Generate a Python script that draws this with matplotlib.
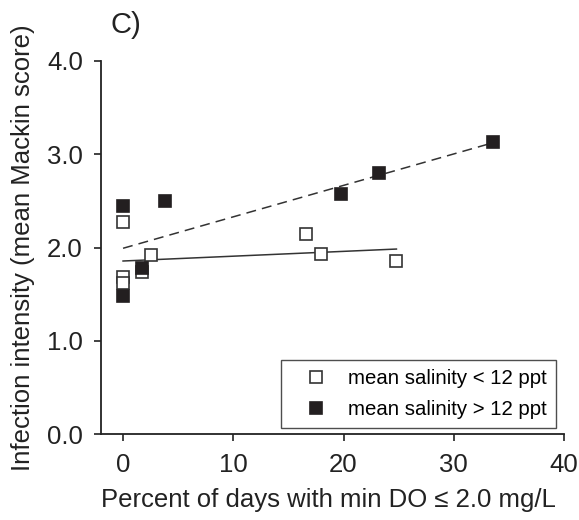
import numpy as np
import matplotlib
matplotlib.use("Agg")
import matplotlib.pyplot as plt

plt.rcParams['font.family'] = ['Liberation Sans', 'DejaVu Sans']

# Data: mean salinity < 12 ppt (open squares)
low_x = [0.0, 0.0, 0.0, 1.7, 2.5, 16.6, 18.0, 24.8]
low_y = [2.27, 1.68, 1.62, 1.74, 1.92, 2.15, 1.93, 1.86]
# Data: mean salinity > 12 ppt (filled squares)
high_x = [0.0, 0.0, 1.7, 3.8, 19.8, 23.2, 33.6]
high_y = [2.45, 1.48, 1.78, 2.50, 2.57, 2.80, 3.13]

xticks = [0, 10, 20, 30, 40]
yticks = [0.0, 1.0, 2.0, 3.0, 4.0]

fig = plt.figure(figsize=(5.79, 5.20), dpi=100)
ax = fig.add_axes([101/579, 1-434/520, (564-101)/579, (434-61)/520])

dark = '#222222'

# regression lines
for xs, ys, ls in [(low_x, low_y, '-'), (high_x, high_y, '--')]:
    k, b = np.polyfit(xs, ys, 1)
    xx = np.array([min(xs), max(xs)])
    line, = ax.plot(xx, k*xx + b, color='#333333', lw=1.1, ls=ls, zorder=2)
    if ls == '--':
        line.set_dashes((6.5, 4))

ax.plot(low_x, low_y, ls='none', marker='s', ms=9, mfc='white', mec='#333333',
        mew=1.2, label='mean salinity < 12 ppt', zorder=3)
ax.plot(high_x, high_y, ls='none', marker='s', ms=9, mfc='#231f20', mec='#231f20',
        mew=1.2, label='mean salinity > 12 ppt', zorder=4)

ax.set_xlim(-2, 40)
ax.set_ylim(0, 4.0)
ax.set_xticks(xticks)
ax.set_yticks(yticks)
ax.set_yticklabels([f'{v:.1f}' for v in yticks])
ax.tick_params(direction='out', length=5, width=1.2, colors=dark, labelsize=18.5,
               labelcolor='#222222')
ax.tick_params(axis='x', pad=9)
ax.tick_params(axis='y', pad=8)
for s in ['top', 'right']:
    ax.spines[s].set_visible(False)
for s in ['left', 'bottom']:
    ax.spines[s].set_linewidth(1.3)
    ax.spines[s].set_color(dark)

ax.set_xlabel('Percent of days with min DO ≤ 2.0 mg/L', fontsize=18.5, color='#222222')
ax.set_ylabel('Infection intensity (mean Mackin score)', fontsize=18.5, color='#222222')
ax.xaxis.set_label_coords((328-101)/463, -(500-434)/373)
ax.yaxis.set_label_coords(-(101-23)/463, 0.5)
ax.xaxis.label.set_va('center')
ax.yaxis.label.set_va('center')

leg = ax.legend(loc='lower right', bbox_to_anchor=(0.983, 0.016), borderaxespad=0,
                fontsize=14.7, frameon=True, fancybox=False, handlelength=2.54,
                handletextpad=0.34, borderpad=0.44, labelspacing=0.6, markerscale=0.92)
leg.get_frame().set_edgecolor('#222222')
leg.get_frame().set_linewidth(1.0)

fig.text(110/579, 1-25/520, 'C)', fontsize=21, va='center', ha='left', color='#222222')

fig.savefig('out.png', dpi=100)
